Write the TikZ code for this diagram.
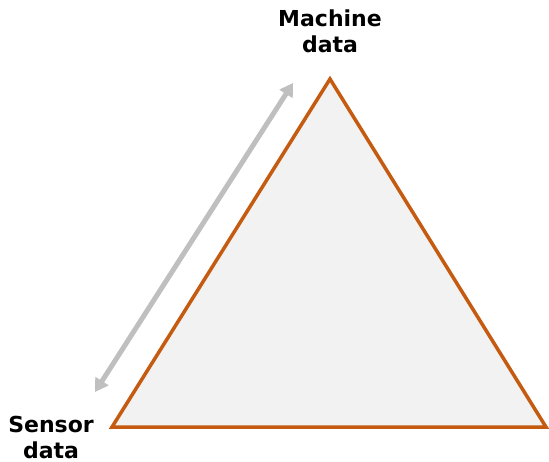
\documentclass[tikz,border=0pt]{standalone}
\usepackage{fontspec}
\setmainfont{DejaVu Sans}
\usetikzlibrary{arrows.meta}
\definecolor{triedge}{HTML}{C55A11}
\definecolor{trifill}{HTML}{F2F2F2}
\definecolor{arrgray}{HTML}{BFBFBF}
\tikzset{
  lbl/.style={font=\bfseries\fontsize{22}{26}\selectfont, align=center, inner sep=0pt, anchor=base},
  tri/.style={draw=triedge, fill=trifill, line width=3.5pt, line join=miter},
  dbl/.style={draw=arrgray, line width=5pt, {Triangle[length=13pt,width=15pt]}-{Triangle[length=13pt,width=15pt]}}
}
\begin{document}
\begin{tikzpicture}[x=1pt,y=-1pt]
\useasboundingbox (0,0) rectangle (549,462);
\coordinate (top) at (330,79);
\coordinate (left) at (112,427);
\coordinate (right) at (546,427);
\draw[tri] (top) -- (right) -- (left) -- cycle;
\coordinate (a1) at (293,83);
\coordinate (a2) at (95,392);
\draw[dbl] (a1) -- (a2);
\node[lbl] (m1) at (330,27) {Machine};
\node[lbl] (m2) at (330,53) {data};
\node[lbl] (s1) at (51,432) {Sensor};
\node[lbl] (s2) at (51,458) {data};
\end{tikzpicture}
\end{document}
